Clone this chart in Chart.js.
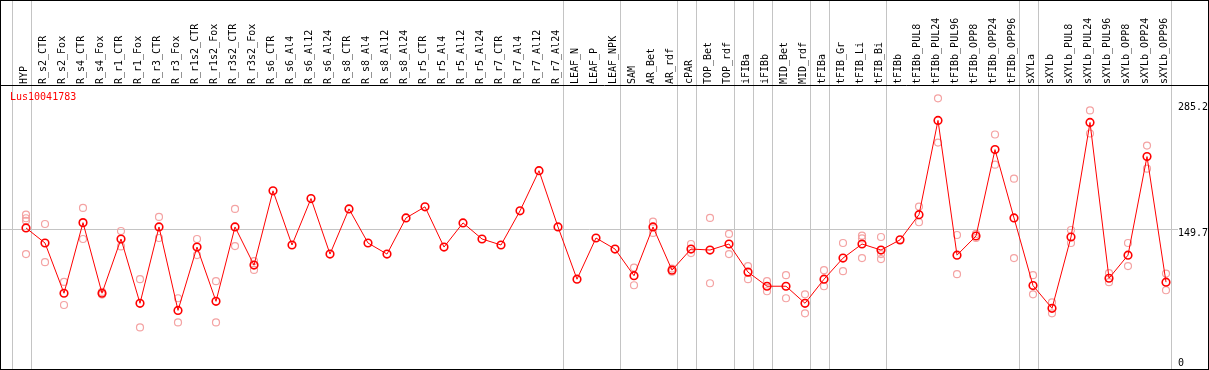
<!DOCTYPE html>
<html>
<head>
<meta charset="utf-8">
<script src="https://cdn.jsdelivr.net/npm/chart.js@4/dist/chart.umd.min.js"></script>
<style>
  html, body { margin: 0; padding: 0; background: #fff; }
  #wrap { width: 1209px; height: 370px; }
</style>
</head>
<body>
<div id="wrap"><canvas id="c" width="1209" height="370"></canvas></div>
<script>
const geneName = 'Lus10041783';
const categories = ['HYP','R_s2_CTR','R_s2_Fox','R_s4_CTR','R_s4_Fox','R_r1_CTR','R_r1_Fox','R_r3_CTR','R_r3_Fox','R_r1s2_CTR','R_r1s2_Fox','R_r3s2_CTR','R_r3s2_Fox','R_s6_CTR','R_s6_Al4','R_s6_Al12','R_s6_Al24','R_s8_CTR','R_s8_Al4','R_s8_Al12','R_s8_Al24','R_r5_CTR','R_r5_Al4','R_r5_Al12','R_r5_Al24','R_r7_CTR','R_r7_Al4','R_r7_Al12','R_r7_Al24','LEAF_N','LEAF_P','LEAF_NPK','SAM','AR_Bet','AR_rdf','cPAR','TOP_Bet','TOP_rdf','iFIBa','iFIBb','MID_Bet','MID_rdf','tFIBa','tFIB_Gr','tFIB_Li','tFIB_Bi','tFIBb','tFIBb_PUL8','tFIBb_PUL24','tFIBb_PUL96','tFIBb_OPP8','tFIBb_OPP24','tFIBb_OPP96','sXYLa','sXYLb','sXYLb_PUL8','sXYLb_PUL24','sXYLb_PUL96','sXYLb_OPP8','sXYLb_OPP24','sXYLb_OPP96'];

const meanValues = [150.7,133.9,78.0,156.6,78.0,138.4,66.8,151.8,58.9,129.4,69.0,151.8,109.3,192.0,131.7,183.4,121.6,171.9,133.9,121.6,161.8,174.2,129.4,156.3,138.4,131.7,169.7,214.4,151.8,93.6,139.5,127.2,97.5,151.8,103.7,127.2,126.1,132.8,101.5,85.8,85.8,66.8,93.6,117.1,132.8,126.1,137.4,165.5,270.4,120.4,141.7,237.9,161.8,86.5,61.2,140.6,268.1,94.7,120.4,230.1,90.3];

const replicateA = [165.5,155.1,90.6,173.0,79.5,147.3,93.6,163.0,72.4,138.4,91.4,171.9,113.8,null,null,null,null,null,null,null,null,null,null,null,null,null,null,null,null,null,null,null,106.6,157.7,105.5,132.8,161.8,144.0,108.2,91.4,98.1,76.8,103.7,133.9,142.1,140.6,null,174.5,295.0,142.8,144.0,254.7,205.5,98.1,67.9,148.4,281.5,100.3,133.9,242.4,99.9];
const replicateB = [121.6,112.6,64.9,138.4,76.5,130.1,39.9,139.5,45.5,120.5,45.5,130.5,104.0,null,null,null,null,null,null,null,null,null,null,null,null,null,null,null,null,null,null,null,86.9,145.1,101.9,122.7,89.1,121.6,93.6,80.2,72.4,55.6,85.8,102.6,117.1,116.0,null,157.0,245.7,99.2,139.5,221.1,117.1,76.8,55.6,133.9,255.8,90.3,108.2,216.7,81.3];
const replicateC = [161.5,null,null,null,null,null,null,null,null,null,null,null,null,null,null,null,null,null,null,null,null,null,null,null,null,null,null,null,null,null,null,null,null,null,null,null,null,null,null,null,null,null,null,null,139.0,121.6,null,null,null,null,null,null,null,null,null,null,null,null,null,null,null];
const replicateD = [158.6,null,null,null,null,null,null,null,null,null,null,null,null,null,null,null,null,null,null,null,null,null,null,null,null,null,null,null,null,null,null,null,null,null,null,null,null,null,null,null,null,null,null,null,null,null,null,null,null,null,null,null,null,null,null,null,null,null,null,null,null];

const yTickValues = [0, 149.7, 285.2];
const referenceLine = 149.7;
// group boundaries: a separator follows these category indices
const separatorAfter = [-1, 0, 28, 31, 34, 35, 37, 38, 39, 41, 42, 45, 52, 53, 60];

const MONO = '"DejaVu Sans Mono", "Liberation Mono", monospace';
const RED = '#ff0000';
const PALE = '#f4a3a3';
const GRAY = '#c4c4c4';

const decor = {
  id: 'decor',
  beforeDatasetsDraw(chart) {
    const ctx = chart.ctx, xs = chart.scales.x, ys = chart.scales.y;
    const step = xs.getPixelForValue(1) - xs.getPixelForValue(0);
    ctx.save();
    ctx.strokeStyle = GRAY;
    ctx.lineWidth = 1;
    const yRef = Math.round(ys.getPixelForValue(referenceLine)) + 0.5;
    ctx.beginPath();
    ctx.moveTo(1, yRef);
    ctx.lineTo(1178, yRef);
    ctx.stroke();
    separatorAfter.forEach(i => {
      const x = Math.round(xs.getPixelForValue(i) + step * 0.24) + 0.5;
      ctx.beginPath();
      ctx.moveTo(x, 1);
      ctx.lineTo(x, chart.height - 1);
      ctx.stroke();
    });
    ctx.restore();
  },
  afterDraw(chart) {
    const ctx = chart.ctx;
    ctx.save();
    ctx.strokeStyle = '#000';
    ctx.lineWidth = 1;
    ctx.strokeRect(0.5, 0.5, chart.width - 1, chart.height - 1);
    ctx.beginPath();
    ctx.moveTo(0, chart.chartArea.top - 0.5);
    ctx.lineTo(chart.width, chart.chartArea.top - 0.5);
    ctx.stroke();
    ctx.fillStyle = RED;
    ctx.font = '10px ' + MONO;
    ctx.textBaseline = 'middle';
    ctx.textAlign = 'left';
    ctx.fillText(geneName, 10, 97.5);
    ctx.restore();
  }
};

function paleSet(arr) {
  return {
    data: arr,
    showLine: false,
    pointRadius: 3.5,
    pointHoverRadius: 3.5,
    pointBorderWidth: 1.2,
    pointBorderColor: PALE,
    pointBackgroundColor: 'rgba(0,0,0,0)',
    borderColor: PALE
  };
}

new Chart(document.getElementById('c'), {
  type: 'line',
  data: {
    labels: categories,
    datasets: [
      {
        data: meanValues,
        borderColor: RED,
        borderWidth: 1,
        pointRadius: 3.8,
        pointHoverRadius: 3.8,
        pointBorderWidth: 1.6,
        pointBorderColor: RED,
        pointBackgroundColor: 'rgba(0,0,0,0)',
        tension: 0
      },
      paleSet(replicateA),
      paleSet(replicateB),
      paleSet(replicateC),
      paleSet(replicateD)
    ]
  },
  options: {
    responsive: false,
    animation: false,
    devicePixelRatio: 1,
    layout: { padding: { left: 26, right: 0, top: 0, bottom: 1 } },
    plugins: { legend: { display: false }, tooltip: { enabled: false } },
    scales: {
      x: {
        type: 'category',
        position: 'top',
        offset: false,
        grid: { display: false, drawTicks: false },
        border: { display: false },
        ticks: {
          autoSkip: false,
          minRotation: 90,
          maxRotation: 90,
          padding: 2,
          labelOffset: 10.5,
          color: '#000',
          font: { family: MONO, size: 10 }
        },
        afterFit(scale) { scale.height = 86; }
      },
      y: {
        position: 'right',
        min: -1.45,
        max: 308.7,
        grid: { display: false, drawTicks: false },
        border: { display: false },
        afterBuildTicks(scale) { scale.ticks = yTickValues.map(v => ({ value: v })); },
        ticks: {
          padding: 12,
          color: '#000',
          font: { family: MONO, size: 10, lineHeight: 0.9 },
          // the middle label sits just below its reference line
          callback: (v) => (v === referenceLine ? ['', String(v)] : String(v))
        },
        afterFit(scale) {
          scale.width = 43;
          scale.paddingTop = 0;
          scale.paddingBottom = 0;
        }
      }
    }
  },
  plugins: [decor]
});
</script>
</body>
</html>
